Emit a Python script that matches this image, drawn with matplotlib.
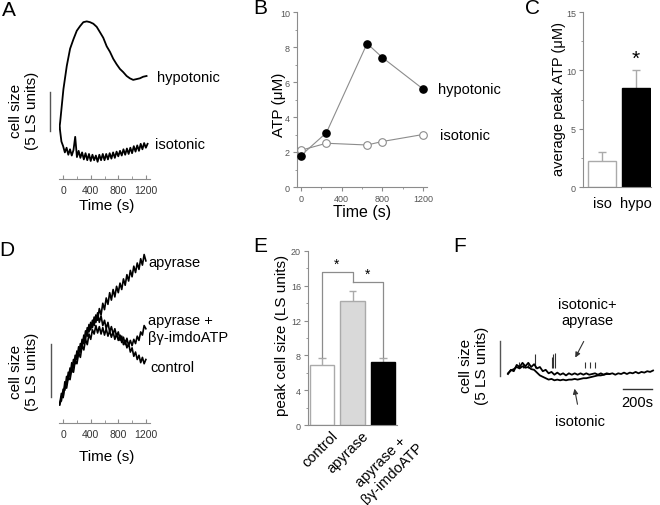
import matplotlib
matplotlib.use('Agg')
import matplotlib.pyplot as plt
from matplotlib.ticker import MultipleLocator

plt.rcParams['font.family'] = ['Liberation Sans', 'DejaVu Sans']

W, H = 660, 506

# ---- data ----
# A: cell size traces (LS units vs s)
a_hypo_t = [-55, -43, 4, 53, 101, 149, 198, 246, 293, 342, 390, 438, 487, 535, 582,
            632, 679, 727, 776, 824, 871, 921, 968, 1016, 1065, 1113, 1160, 1210]
a_hypo_v = [0.0, 0.9, 5.1, 8.1, 10.3, 11.5, 12.6, 13.2, 13.7, 13.8, 13.7, 13.5, 13.1,
            12.4, 11.7, 10.6, 9.9, 9.0, 8.3, 7.7, 7.3, 6.8, 6.5, 6.3, 6.4, 6.5, 6.7, 6.8]
a_iso_t = list(range(-50, 1226, 25))
a_iso_v = [0.2, -1.6, -2.2, -3.0, -2.4, -3.3, -2.6, -3.4, -2.7, -1.0, -3.6, -2.8, -3.7,
           -3.0, -3.9, -3.1, -4.0, -3.2, -4.1, -3.3, -4.0, -3.4, -4.2, -3.3, -4.0, -3.2,
           -4.0, -3.2, -3.9, -3.1, -3.8, -3.0, -3.7, -2.9, -3.5, -2.8, -3.4, -2.6, -3.3,
           -2.5, -3.2, -2.4, -3.1, -2.2, -2.9, -2.1, -2.8, -1.9, -2.6, -1.8, -2.4, -1.9]

# B: ATP (uM) vs time
b_t = [0, 250, 650, 800, 1200]
b_hypo = [1.8, 3.1, 8.2, 7.4, 5.6]
b_iso = [2.1, 2.5, 2.4, 2.6, 3.0]

# C: average peak ATP
c_labels = ['iso', 'hypo']
c_vals = [2.2, 8.5]
c_err = [0.8, 1.5]

# D: cell size traces
d_t = list(range(-50, 1201, 25))
d_apy = [0.0, 1.0, 0.7, 2.1, 1.8, 3.0, 2.6, 3.9, 3.4, 4.6, 4.2, 5.4, 4.9, 6.1, 5.7, 6.9,
         6.4, 7.5, 7.0, 7.9, 7.4, 8.4, 7.9, 9.0, 8.4, 9.5, 8.9, 10.0, 9.4, 10.5, 9.8, 10.8,
         10.1, 11.1, 10.5, 11.4, 10.8, 11.8, 11.2, 12.2, 11.6, 12.6, 12.0, 13.0, 12.4,
         13.3, 12.7, 13.7, 13.1, 14.1, 13.5]
d_ctrl = [0.1, 0.3, 1.4, 1.3, 2.6, 2.3, 3.4, 3.0, 4.2, 3.8, 5.0, 4.6, 5.7, 5.3, 6.5, 6.1,
          7.2, 6.8, 7.7, 7.2, 8.2, 7.7, 8.6, 7.7, 8.3, 7.4, 7.9, 7.1, 7.7, 6.8, 7.3, 6.6,
          7.1, 6.4, 6.8, 6.0, 6.4, 5.6, 6.0, 5.3, 5.7, 4.9, 5.3, 4.5, 4.9, 4.2, 4.6, 3.9,
          4.4, 3.8, 4.2]
d_imdo = [-0.1, 0.7, 0.6, 1.7, 1.5, 2.5, 2.3, 3.3, 3.0, 4.1, 3.8, 4.8, 4.4, 5.5, 5.1, 6.1,
          5.6, 6.6, 6.1, 7.0, 6.6, 7.4, 6.7, 7.3, 6.6, 7.2, 6.5, 7.1, 6.4, 6.9, 6.3, 6.8,
          6.1, 6.6, 6.0, 6.5, 5.8, 6.3, 5.6, 6.2, 5.5, 6.0, 5.5, 6.1, 5.7, 6.4, 6.0, 6.8,
          6.5, 7.4, 7.1]

# E: peak cell size
e_labels = ['control', 'apyrase', 'apyrase +\nβγ-imdoATP']
e_vals = [6.9, 14.2, 7.2]
e_err = [0.8, 1.2, 0.5]

# F: isotonic traces
f_apy_t = list(range(0, 1001, 20))
f_apy_v = [0.0, 0.6, 0.4, 1.3, 1.0, 1.6, 1.1, 1.6, 1.0, 1.4, 0.8, 1.0, 0.4, 0.6, 0.1, 0.3,
           -0.1, 0.2, -0.1, 0.1, -0.2, 0.1, -0.1, 0.1, -0.1, 0.1, -0.1, 0.1, -0.1, 0.0,
           0.1, -0.1, 0.1, -0.1, 0.1, 0.0, 0.1, -0.1, 0.1, 0.0, 0.2, 0.0, 0.2, 0.1, 0.3,
           0.1, 0.3, 0.2, 0.4, 0.3, 0.5]
f_spike_t = [76, 103, 138, 186, 303, 310, 324, 531, 566, 600]
f_spike_v = [1.7, 1.4, 1.4, 2.9, 2.4, 2.9, 3.0, 1.7, 1.7, 1.7]
f_iso_t = list(range(0, 701, 20))
f_iso_v = [0.1, 0.5, 0.7, 1.0, 0.8, 1.1, 0.9, 1.0, 0.7, 0.6, 0.2, -0.2, -0.4, -0.6, -0.8,
           -0.7, -0.9, -0.8, -0.9, -0.8, -0.9, -0.8, -0.8, -0.7, -0.8, -0.7, -0.6, -0.6,
           -0.5, -0.4, -0.3, -0.2, -0.2, -0.1, 0.0, 0.0]

GRAY = '#8c8c8c'
TICKC = '#555555'

fig = plt.figure(figsize=(W / 100, H / 100), dpi=100)


def add_ax(x0, y0, x1, y1):
    return fig.add_axes([x0 / W, 1 - y1 / H, (x1 - x0) / W, (y1 - y0) / H])


def ftext(x, y, s, **kw):
    kw.setdefault('ha', 'center')
    kw.setdefault('va', 'center')
    fig.text(x / W, 1 - y / H, s, **kw)


def trace_axis(ax):
    for s in ['top', 'right', 'left']:
        ax.spines[s].set_visible(False)
    ax.spines['bottom'].set_color(GRAY)
    ax.spines['bottom'].set_linewidth(0.8)
    ax.set_yticks([])
    ax.xaxis.set_major_locator(MultipleLocator(400))
    ax.xaxis.set_minor_locator(MultipleLocator(200))
    ax.tick_params(axis='x', which='both', direction='in', color=GRAY, labelsize=7.5,
                   labelcolor='#333333', pad=4)
    ax.tick_params(axis='x', which='major', length=3)
    ax.tick_params(axis='x', which='minor', length=2)
    ax.patch.set_alpha(0)


def plain_axis(ax):
    for s in ['top', 'right']:
        ax.spines[s].set_visible(False)
    for s in ['left', 'bottom']:
        ax.spines[s].set_color(GRAY)
        ax.spines[s].set_linewidth(0.8)
    ax.tick_params(which='both', direction='out', color=GRAY, labelsize=6.5,
                   labelcolor=TICKC, pad=2)
    ax.tick_params(which='major', length=3)
    ax.tick_params(which='minor', length=1.5)
    ax.patch.set_alpha(0)


# ---- A ----
axA = add_ax(59, 5, 150, 180)
axA.set_xlim(-60, 1260)
axA.set_ylim(-6.41, 16.03)
trace_axis(axA)
axA.plot(a_iso_t, a_iso_v, color='black', lw=1.3)
axA.plot(a_hypo_t, a_hypo_v, color='black', lw=1.3)
axA.plot([-190, -190], [-0.26, 4.74], color='#555555', lw=1, clip_on=False)
ftext(2, 10, 'A', ha='left', fontsize=15)
ftext(24, 111, 'cell size\n(5 LS units)', rotation=90, fontsize=11)
ftext(107, 206, 'Time (s)', fontsize=11)
ftext(157, 78, 'hypotonic', ha='left', fontsize=10.5)
ftext(155, 145, 'isotonic', ha='left', fontsize=10.5)

# ---- B ----
axB = add_ax(297, 13, 427, 188)
axB.set_xlim(-39, 1239)
axB.set_ylim(0, 10)
plain_axis(axB)
axB.xaxis.set_major_locator(MultipleLocator(400))
axB.xaxis.set_minor_locator(MultipleLocator(200))
axB.yaxis.set_major_locator(MultipleLocator(2))
axB.yaxis.set_minor_locator(MultipleLocator(1))
axB.plot(b_t, b_iso, color=GRAY, lw=0.8, zorder=1)
axB.plot(b_t, b_hypo, color=GRAY, lw=0.8, zorder=1)
axB.plot(b_t, b_iso, 'o', ms=5.5, mfc='white', mec=GRAY, mew=0.8, zorder=3, clip_on=False)
axB.plot(b_t, b_hypo, 'o', ms=5.2, mfc='black', mec='black', zorder=4, clip_on=False)
ftext(260, 9, 'B', fontsize=15)
ftext(279, 105, 'ATP (μM)', rotation=90, fontsize=11)
ftext(362, 213, 'Time (s)', fontsize=11.5)
ftext(438, 90, 'hypotonic', ha='left', fontsize=10.5)
ftext(440, 136, 'isotonic', ha='left', fontsize=10.5)

# ---- C ----
axC = add_ax(583, 13, 651, 188)
axC.set_xlim(-0.57, 1.45)
axC.set_ylim(0, 15)
plain_axis(axC)
axC.yaxis.set_major_locator(MultipleLocator(5))
axC.yaxis.set_minor_locator(MultipleLocator(2.5))
axC.set_xticks([])
axC.bar([0, 1], c_vals, width=0.82, color=['white', 'black'],
        edgecolor=['#aaaaaa', 'black'], linewidth=1, zorder=2)
tops = [v + e for v, e in zip(c_vals, c_err)]
axC.vlines([0, 1], c_vals, tops, color='#aaaaaa', lw=1, zorder=1)
axC.hlines(tops, [-0.12, 0.88], [0.12, 1.12], color='#aaaaaa', lw=1, zorder=1)
axC.text(1, 11.0, '*', ha='center', va='center', fontsize=15)
for i, lab in enumerate(c_labels):
    axC.text(i, -0.8, lab, ha='center', va='top', fontsize=10.5)
ftext(533, 9, 'C', fontsize=15)
ftext(559, 99, 'average peak ATP (μM)', rotation=90, fontsize=10.5)

# ---- D ----
axD = add_ax(59, 250, 150, 424)
axD.set_xlim(-60, 1260)
axD.set_ylim(-1.79, 14.62)
trace_axis(axD)
axD.plot(d_t, d_imdo, color='black', lw=1.2)
axD.plot(d_t, d_ctrl, color='black', lw=1.2)
axD.plot(d_t, d_apy, color='black', lw=1.2)
axD.plot([-176, -176], [0.66, 5.66], color='#555555', lw=1, clip_on=False)
ftext(7, 250, 'D', fontsize=15)
ftext(24, 372, 'cell size\n(5 LS units)', rotation=90, fontsize=11)
ftext(107, 457, 'Time (s)', fontsize=11)
ftext(148, 263, 'apyrase', ha='left', fontsize=10.5)
ftext(148, 321, 'apyrase +', ha='left', fontsize=10.5)
ftext(148, 338, 'βγ-imdoATP', ha='left', fontsize=10.5)
ftext(150, 368, 'control', ha='left', fontsize=10.5)

# ---- E ----
axE = add_ax(308, 252, 397, 426)
axE.set_xlim(-0.459, 2.459)
axE.set_ylim(0, 20)
plain_axis(axE)
axE.yaxis.set_major_locator(MultipleLocator(4))
axE.yaxis.set_minor_locator(MultipleLocator(2))
axE.set_xticks([])
axE.bar([0, 1, 2], e_vals, width=0.79, color=['white', '#d9d9d9', 'black'],
        edgecolor=['#aaaaaa', '#aaaaaa', 'black'], linewidth=1, zorder=2)
etops = [v + e for v, e in zip(e_vals, e_err)]
axE.vlines([0, 1, 2], e_vals, etops, color='#aaaaaa', lw=1, zorder=1)
axE.hlines(etops, [-0.12, 0.88, 1.88], [0.12, 1.12, 2.12], color='#aaaaaa', lw=1, zorder=1)
axE.plot([0, 0, 1, 1], [etops[0] + 0.1, 17.6, 17.6, 16.4], color=GRAY, lw=0.9, clip_on=False)
axE.plot([1, 2, 2], [16.4, 16.4, etops[2] + 0.1], color=GRAY, lw=0.9, clip_on=False)
axE.text(0.49, 18.5, '*', ha='center', va='center', fontsize=10)
axE.text(1.48, 17.4, '*', ha='center', va='center', fontsize=10)
ftext(260, 247, 'E', fontsize=15)
ftext(282, 335, 'peak cell size (LS units)', rotation=90, fontsize=11)
e_anchor = [(331, 429), (361, 429), (404, 429)]
for (x, y), lab in zip(e_anchor, e_labels):
    ftext(x, y, lab, rotation=45, rotation_mode='anchor', ha='right', va='top',
          multialignment='center', fontsize=10.5)

# ---- F ----
axF = add_ax(500, 330, 660, 400)
axF.set_xlim(-55, 1048)
axF.set_ylim(-3.57, 6.43)
axF.axis('off')
axF.vlines(f_spike_t, 0.8, f_spike_v, color='#333333', lw=0.8)
axF.plot(f_iso_t, f_iso_v, color='black', lw=1.3)
axF.plot(f_apy_t, f_apy_v, color='black', lw=1.3)
axF.plot([-55, -55], [-0.29, 4.71], color='#555555', lw=1, clip_on=False)
axF.plot([793, 993], [-2.14, -2.14], color='#333333', lw=1, clip_on=False)
ftext(460, 247, 'F', fontsize=15)
ftext(474, 366, 'cell size\n(5 LS units)', rotation=90, fontsize=11)
ftext(587, 313, 'isotonic+\napyrase', fontsize=10.5, linespacing=1.1)
ftext(580, 422, 'isotonic', fontsize=10.5)
ftext(637, 403, '200s', fontsize=10.5)
fig.add_artist(matplotlib.patches.FancyArrowPatch(
    (585 / W, 1 - 340 / H), (574 / W, 1 - 361 / H), transform=fig.transFigure,
    arrowstyle='-|>,head_length=3,head_width=1.5', color='#333333', lw=0.8))
fig.add_artist(matplotlib.patches.FancyArrowPatch(
    (578 / W, 1 - 408 / H), (574 / W, 1 - 387 / H), transform=fig.transFigure,
    arrowstyle='-|>,head_length=3,head_width=1.5', color='#333333', lw=0.8))

fig.savefig('out.png', dpi=100)
